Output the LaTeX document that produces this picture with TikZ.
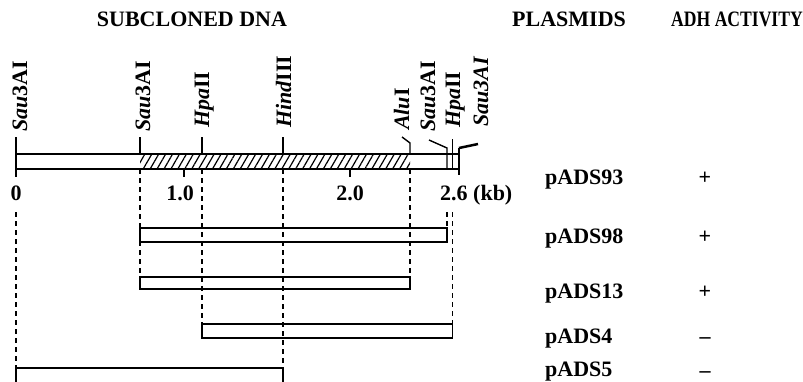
\documentclass[tikz,border=0pt]{standalone}
\usepackage{fontspec}
\setmainfont{Liberation Serif}
\usepackage{tikz}
\usetikzlibrary{patterns.meta}
\pgfdeclarelayer{edgelayer}
\pgfdeclarelayer{nodelayer}
\pgfsetlayers{edgelayer,nodelayer,main}
\tikzstyle{none}=[inner sep=0pt]
\tikzstyle{title}=[inner sep=0pt, font=\fontsize{22}{24}\selectfont\bfseries]
\tikzstyle{plasmid}=[title, anchor=base west]
\tikzstyle{sign}=[title, anchor=base]
\tikzstyle{site}=[title, rotate=90, anchor=base west]
\tikzstyle{bar}=[draw=black, line width=1.4pt]
\tikzstyle{cutline}=[draw=black, line width=1.2pt, dash pattern=on 5pt off 4pt]
\tikzstyle{hatch}=[pattern={Lines[angle=60, distance=6pt, line width=1.2pt]}]

\begin{document}
\begin{tikzpicture}[x=10pt, y=10pt]
			\useasboundingbox (0, 0) rectangle (80.3, 38.1);
			\begin{pgfonlayer}{nodelayer}
			\node [style=title] (0) at (19.2, 36.2) {SUBCLONED DNA};
			\node [style=title, anchor=west] (1) at (51.2, 36.2) {PLASMIDS};
			\node [style=title] (2) at (73.7, 36.2) {\scalebox{0.8}[1]{ADH ACTIVITY}};
			\node [style=site] (3) at (2.7, 24.9) {{\itshape Sau}3AI};
			\node [style=site] (4) at (15.0, 24.9) {{\itshape Sau}3AI};
			\node [style=site] (5) at (20.9, 25.3) {{\itshape Hpa}II};
			\node [style=site] (6) at (29.1, 25.3) {{\itshape Hind}III};
			\node [style=site] (7) at (40.9, 25.1) {{\itshape Alu}I};
			\node [style=site] (8) at (43.5, 24.9) {{\itshape Sau}3AI};
			\node [style=site] (9) at (46.0, 25.3) {{\itshape Hpa}II};
			\node [style=site] (10) at (48.8, 25.4) {{\itshape Sau3AI}};
			\node [style=sign] (11) at (1.6, 18.1) {0};
			\node [style=sign] (12) at (18.0, 18.1) {1.0};
			\node [style=sign] (13) at (35.0, 18.1) {2.0};
			\node [style=plasmid] (14) at (44.0, 18.1) {2.6 (kb)};
			\node [style=plasmid] (15) at (54.5, 19.7) {pADS93};
			\node [style=plasmid] (16) at (54.5, 13.8) {pADS98};
			\node [style=plasmid] (17) at (54.5, 8.3) {pADS13};
			\node [style=plasmid] (18) at (54.5, 3.8) {pADS4};
			\node [style=plasmid] (19) at (54.5, 0.5) {pADS5};
			\node [style=sign] (20) at (70.5, 19.7) {+};
			\node [style=sign] (21) at (70.5, 13.8) {+};
			\node [style=sign] (22) at (70.5, 8.3) {+};
			\node [style=sign] (23) at (70.5, 3.8) {--};
			\node [style=sign] (24) at (70.5, 0.35) {--};
			\node [style=none] (30) at (1.6, 22.7) {};
			\node [style=none] (31) at (45.9, 21.2) {};
			\node [style=none] (32) at (14.0, 22.7) {};
			\node [style=none] (33) at (41.0, 21.2) {};
			\node [style=none] (40) at (1.6, 24.4) {};
			\node [style=none] (41) at (1.6, 20.4) {};
			\node [style=none] (42) at (14.0, 24.4) {};
			\node [style=none] (43) at (14.0, 22.7) {};
			\node [style=none] (44) at (20.2, 24.4) {};
			\node [style=none] (45) at (20.2, 22.7) {};
			\node [style=none] (46) at (28.3, 24.4) {};
			\node [style=none] (47) at (28.3, 22.7) {};
			\node [style=none] (48) at (40.2, 24.4) {};
			\node [style=none] (49) at (41.0, 23.8) {};
			\node [style=none] (50) at (41.0, 22.7) {};
			\node [style=none] (51) at (42.9, 24.1) {};
			\node [style=none] (52) at (44.7, 23.3) {};
			\node [style=none] (53) at (44.7, 21.2) {};
			\node [style=none] (54) at (45.25, 24.2) {};
			\node [style=none] (55) at (45.25, 21.2) {};
			\node [style=none] (56) at (47.8, 23.7) {};
			\node [style=none] (57) at (45.9, 23.3) {};
			\node [style=none] (58) at (45.9, 20.6) {};
			\node [style=none] (59) at (18.4, 21.2) {};
			\node [style=none] (60) at (18.4, 20.4) {};
			\node [style=none] (61) at (35.0, 21.2) {};
			\node [style=none] (62) at (35.0, 20.4) {};
			\node [style=none] (63) at (14.0, 21.2) {};
			\node [style=none] (64) at (14.0, 10.4) {};
			\node [style=none] (65) at (20.2, 21.2) {};
			\node [style=none] (66) at (20.2, 5.7) {};
			\node [style=none] (67) at (28.3, 21.2) {};
			\node [style=none] (68) at (28.3, 1.3) {};
			\node [style=none] (69) at (41.0, 21.2) {};
			\node [style=none] (70) at (41.0, 10.4) {};
			\node [style=none] (71) at (1.6, 16.9) {};
			\node [style=none] (72) at (1.6, 1.3) {};
			\node [style=none] (73) at (44.7, 16.9) {};
			\node [style=none] (74) at (44.7, 15.3) {};
			\node [style=none] (75) at (45.25, 16.9) {};
			\node [style=none] (76) at (45.25, 5.7) {};
			\node [style=none] (77) at (14.0, 15.3) {};
			\node [style=none] (78) at (44.7, 13.9) {};
			\node [style=none] (79) at (41.0, 9.2) {};
			\node [style=none] (80) at (45.25, 4.3) {};
			\node [style=none] (81) at (28.3, -0.2) {};
			\end{pgfonlayer}
			\begin{pgfonlayer}{edgelayer}
			\fill [style=hatch] (32.center) rectangle (33.center);
			\draw [style=bar] (30.center) rectangle (31.center);
			\draw [style=bar] (40.center) to (41.center);
			\draw [style=bar] (42.center) to (43.center);
			\draw [style=bar] (44.center) to (45.center);
			\draw [style=bar] (46.center) to (47.center);
			\draw [style=bar] (48.center) to (49.center) to (50.center);
			\draw [style=bar] (51.center) to (52.center) to (53.center);
			\draw [style=bar] (54.center) to (55.center);
			\draw [style=bar, line width=2.5pt] (56.center) to (57.center);
			\draw [style=bar] (57.center) to (58.center);
			\draw [style=bar] (59.center) to (60.center);
			\draw [style=bar] (61.center) to (62.center);
			\draw [style=cutline] (63.center) to (64.center);
			\draw [style=cutline] (65.center) to (66.center);
			\draw [style=cutline] (67.center) to (68.center);
			\draw [style=cutline] (69.center) to (70.center);
			\draw [style=cutline] (71.center) to (72.center);
			\draw [style=cutline] (73.center) to (74.center);
			\draw [style=cutline] (75.center) to (76.center);
			\draw [style=bar] (77.center) rectangle (78.center);
			\draw [style=bar] (64.center) rectangle (79.center);
			\draw [style=bar] (66.center) rectangle (80.center);
			\draw [style=bar] (72.center) rectangle (81.center);
			\end{pgfonlayer}
\end{tikzpicture}
\end{document}
